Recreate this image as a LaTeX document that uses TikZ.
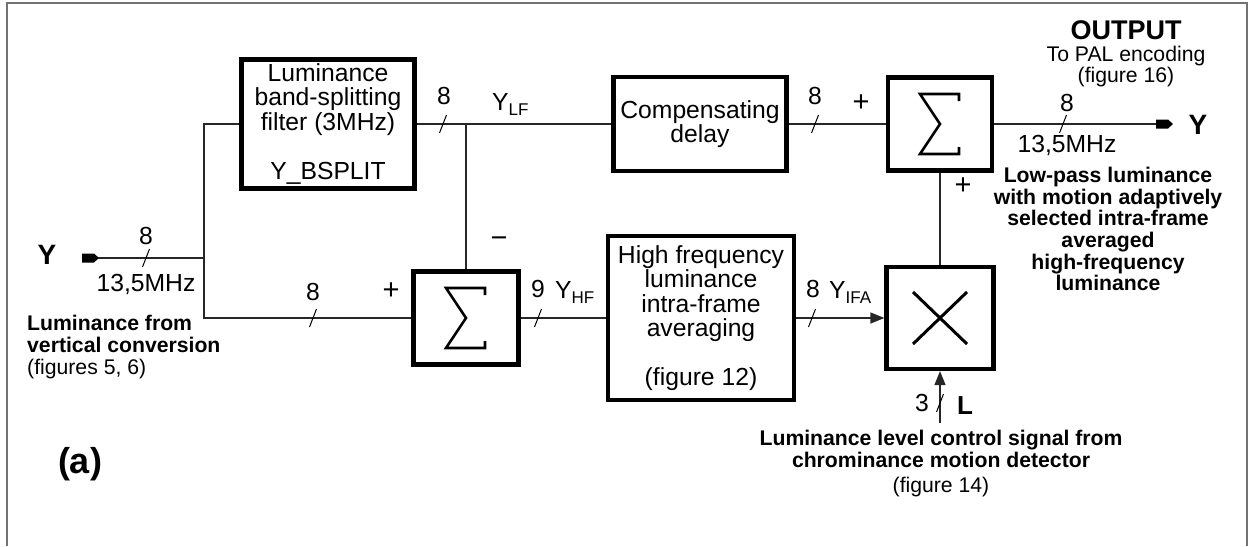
\documentclass[tikz,border=0pt]{standalone}
\usepackage{fontspec}
\setmainfont{Liberation Sans}
\usetikzlibrary{arrows.meta}
\newcommand\blkfont{\fontsize{24.7}{24.5}\selectfont}
\newcommand\annfont{\fontsize{21.2}{21.7}\selectfont}
\newcommand\lowsub[1]{\raisebox{-5pt}{\fontsize{17}{17}\selectfont #1}}
\tikzset{
  blk/.style={draw, line width=4.2pt, inner sep=0pt, align=center, font=\blkfont},
  wire/.style={line width=1.4pt, draw=black!85},
  lbl/.style={font=\blkfont, inner sep=0pt},
  sgn/.style={font=\fontsize{29}{29}\selectfont, inner sep=0pt},
  ann/.style={font=\annfont, align=center, inner sep=0pt},
  big/.style={font=\fontsize{28}{28}\selectfont\bfseries, inner sep=0pt},
  pics/bus/.style={code={\draw[line width=1pt] (-3.5,9) -- (3.5,-9);}},
  pics/plug/.style={code={\fill (0,-4.5) -- (12,-4.5) -- (17,0) -- (12,4.5) -- (0,4.5) -- cycle;}},
  pics/sigma/.style={code={\draw[line width=2.6pt] (19,-23) -- (19,-30) -- (-20,-30) -- (0,0) -- (-20,30) -- (19,30) -- (19,23);}},
  pics/cross/.style={code={\draw[line width=3pt] (-27,-26) -- (27,26) (-27,26) -- (27,-26);}},
  >={Triangle[length=14pt,width=11pt]}
}

\begin{document}
\begin{tikzpicture}[x=1pt, y=-1pt]
  \useasboundingbox (0,0) rectangle (1252,546);
  % frame
  \draw[line width=1.5pt, black!55] (7,546) -- (7,3) -- (1247,3) -- (1247,546);
  % blocks
  \node[blk, minimum width=173pt, minimum height=129pt] (filt) at (328,124)
    {Luminance\\band-splitting\\filter (3MHz)\\[24.5pt]Y\_BSPLIT};
  \node[blk, minimum width=173pt, minimum height=94pt] (dly) at (700,124) {Compensating\\delay};
  \node[blk, minimum width=186pt, minimum height=164pt] (hf) at (701,318)
    {High frequency\\luminance\\intra-frame\\averaging\\[24.5pt](figure 12)};
  \node[blk, minimum width=105pt, minimum height=93pt] (sum1) at (466,318) {};
  \node[blk, minimum width=104pt, minimum height=93pt] (sum2) at (940,124) {};
  \node[blk, minimum width=107pt, minimum height=102pt] (mult) at (940,318) {};
  \pic at (sum1) {sigma};
  \pic at (sum2) {sigma};
  \pic at (mult) {cross};
  % ports
  \coordinate (split) at (204,258);
  \coordinate (inTip) at (98,258);
  \coordinate (outTip) at (1156,124);
  \coordinate (lIn) at (940,423);
  \pic at (82,258) {plug};
  \pic at (outTip) {plug};
  % wires
  \draw[wire] (inTip) -- (split);
  \draw[wire] (filt.west) -| (split) |- (sum1.west);
  \draw[wire] (filt.east) -- (dly.west);
  \draw[wire] (sum1.north) -- (sum1.north |- filt.east);
  \draw[wire] (dly.east) -- (sum2.west);
  \draw[wire] (sum2.east) -- (outTip);
  \draw[wire] (sum1.east) -- (hf.west);
  \draw[wire,->] (hf.east) -- (mult.west);
  \draw[wire] (mult.north) -- (sum2.south);
  \draw[wire,->] (lIn) -- (mult.south);
  % bus widths
  \pic at (146,258) {bus};
  \pic at (313,318) {bus};
  \pic at (443,124) {bus};
  \pic at (538,318) {bus};
  \pic at (815,124) {bus};
  \pic at (812,318) {bus};
  \pic at (1063,124) {bus};
  \pic at (940,403) {bus};
  \node[lbl] (w1) at (146,236) {8};
  \node[lbl] (f1) at (146,284) {13,5MHz};
  \node[lbl] (w2) at (313,292) {8};
  \node[lbl] (w3) at (444,96) {8};
  \node[lbl] (w4) at (538,289) {9};
  \node[lbl] (w5) at (815,96) {8};
  \node[lbl] (w6) at (813,289) {8};
  \node[lbl] (w7) at (1067,103) {8};
  \node[lbl] (f2) at (1067,145) {13,5MHz};
  \node[lbl] (w8) at (922,403) {3};
  % signal names
  \node[lbl, anchor=base west] (ylf) at (492,110) {Y\lowsub{LF}};
  \node[lbl, anchor=base west] (yhf) at (555,298) {Y\lowsub{HF}};
  \node[lbl, anchor=base west] (yifa) at (829,298) {Y\lowsub{IFA}};
  \node[sgn] (p1) at (391,291) {+};
  \node[sgn] (m1) at (499,242) {−};
  \node[sgn] (p2) at (861,103) {+};
  \node[sgn] (p3) at (963,186) {+};
  \node[big] (yin) at (47,255) {Y};
  \node[big] (yout) at (1198,125) {Y};
  \node[big, font=\fontsize{26}{26}\selectfont\bfseries] (lsig) at (965,406) {L};
  \node[big, font=\fontsize{36}{36}\selectfont\bfseries] (tag) at (80,464) {(a)};
  % notes
  \node[ann] (outp) at (1126,54)
    {{\fontsize{27}{27}\selectfont\bfseries OUTPUT}\\To PAL encoding\\(figure 16)};
  \node[ann, font=\annfont\bfseries] (lpl) at (1108,229)
    {Low-pass luminance\\with motion adaptively\\selected intra-frame\\averaged\\high-frequency\\luminance};
  \node[ann, align=left, anchor=west] (src) at (27,347)
    {{\bfseries Luminance from}\\{\bfseries vertical conversion}\\(figures 5, 6)};
  \node[ann, font=\annfont\bfseries] (lvl) at (941,449)
    {Luminance level control signal from\\chrominance motion detector};
  \node[ann] (f14) at (941,487) {(figure 14)};
\end{tikzpicture}
\end{document}
